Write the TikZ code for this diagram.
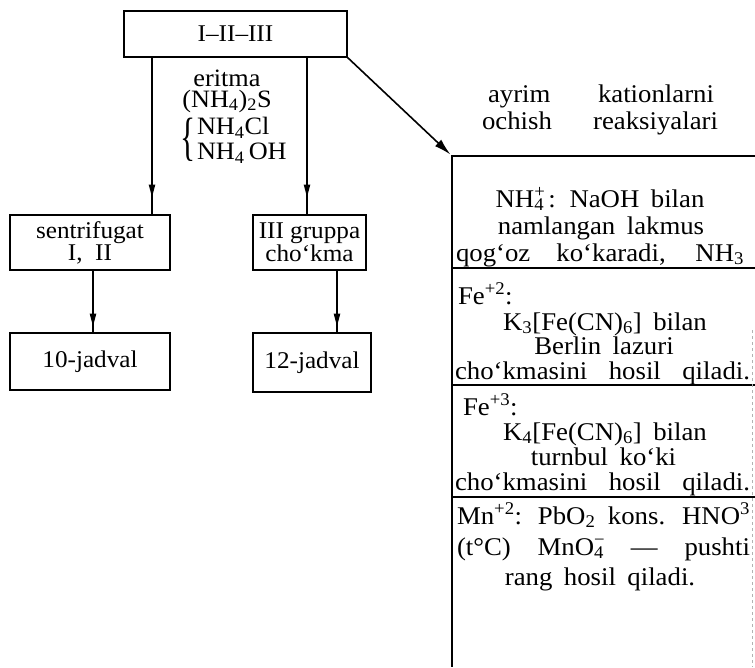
\documentclass[tikz,border=0pt]{standalone}
\usepackage{fontspec}
\usepackage{graphicx}
\setmainfont{Liberation Serif}[FakeStretch=1.05]
\usetikzlibrary{arrows.meta,decorations.markings}
\newcommand\chsub[1]{\textsubscript{#1}}
\newcommand\chsup[1]{\textsuperscript{#1}}
\newcommand\chboth[2]{\rlap{\textsuperscript{#2}}\textsubscript{#1}}
\newcommand\tsp{\spaceskip=0.45em plus 0.6em minus 0.15em\relax}
\newsavebox\jbox
\newcommand\jline[2]{\sbox\jbox{#2}\ifdim\wd\jbox>#1pt\resizebox{#1pt}{\height}{\usebox\jbox}\else\makebox[#1pt][s]{#2}\fi}
\begin{document}
\begin{tikzpicture}[x=1pt,y=-1pt,
  every node/.style={inner sep=0pt, outer sep=0pt, font=\fontsize{24}{20.5}\selectfont},
  boxnode/.style={draw, line width=1.3pt, align=center},
  lbl/.style={font=\fontsize{25}{22}\selectfont},
  tline/.style={anchor=base, font=\fontsize{25.5}{24}\selectfont},
  midarrow/.style={line width=2pt, postaction={decorate},
    decoration={markings, mark=at position #1 with {\arrow{Triangle[length=13pt,width=6pt]}}}},
  tab/.style={line width=1.4pt}]
\useasboundingbox (0,0) rectangle (755,667);

% boxes
\node[boxnode, minimum width=223pt, minimum height=46pt] (top) at (235.5,34) {I–II–III};
\node[boxnode, minimum width=160pt, minimum height=55pt] (sent) at (90,242.5) {sentrifugat\\I,\ \ II};
\node[boxnode, minimum width=113pt, minimum height=55pt] (gr3) at (309.5,242.5) {III gruppa\\cho‘kma};
\node[boxnode, minimum width=160pt, minimum height=57pt] (j10) at (90,361.5) {10-jadval};
\node[boxnode, minimum width=118pt, minimum height=59pt] (j12) at (312,362.5) {12-jadval};

% reagent label
\node[lbl] (er) at (227,78) {eritma};
\node[lbl] (ns) at (227,101) {(NH\chsub{4})\chsub{2}S};
\node[lbl] (br) at (188,140) {\scalebox{1.2}[2.1]{\{}};
\node[lbl, anchor=west] (nc) at (197,128) {NH\chsub{4}Cl};
\node[lbl, anchor=west] (no) at (197,153) {NH\chsub{4}\,OH};

% connectors
\coordinate (xl) at (152,0);
\coordinate (xr) at (307,0);
\coordinate (xll) at (93,0);
\coordinate (xrr) at (337,0);
\draw[midarrow=0.89] (top.south -| xl) -- (sent.north -| xl);
\draw[midarrow=0.89] (top.south -| xr) -- (gr3.north -| xr);
\draw[midarrow=0.9] (sent.south -| xll) -- (j10.north -| xll);
\draw[midarrow=0.9] (gr3.south -| xrr) -- (j12.north -| xrr);

% table
\coordinate (ttl) at (452,156);
\coordinate (ttr) at (755,156);
\coordinate (s1l) at (452,268);
\coordinate (s1r) at (755,268);
\coordinate (s2l) at (452,385);
\coordinate (s2r) at (755,385);
\coordinate (s3l) at (452,497);
\coordinate (s3r) at (755,497);
\coordinate (tbl) at (452,667);
\draw[line width=1.6pt, -{Latex[length=17pt,width=9pt]}, shorten >=2pt] (top.south east) -- (ttl);
\draw[tab] (ttr) -- (ttl) -- (tbl);
\draw[tab] (s1l) -- (s1r);
\draw[tab] (s2l) -- (s2r);
\draw[tab] (s3l) -- (s3r);
\draw[line width=0.4pt, gray!60, dashed] (752,330) -- (752,667);

% heading above table
\node[tline] (h1) at (601,102) {\tsp\jline{226}{ayrim kationlarni}};
\node[tline] (h2) at (600,129) {\tsp\jline{236}{ochish reaksiyalari}};

% cell 1
\node[tline] (a1) at (600,207) {\tsp NH\chboth{4}{+}\,: NaOH bilan};
\node[tline] (a2) at (601,234) {\tsp namlangan lakmus};
\node[tline] (a3) at (600,261) {\tsp\jline{288}{qog‘oz ko‘karadi, NH\chsub{3}}};

% cell 2
\node[tline, anchor=base west] (b0) at (458,304) {Fe\chsup{+2}:};
\node[tline] (b1) at (605,330) {\tsp K\chsub{3}[Fe(CN)\chsub{6}] bilan};
\node[tline] (b2) at (604,354) {\tsp Berlin lazuri};
\node[tline] (b3) at (602.5,379) {\tsp\jline{295}{cho‘kmasini hosil qiladi.}};

% cell 3
\node[tline, anchor=base west] (c0) at (463,415) {Fe\chsup{+3}:};
\node[tline] (c1) at (605,440) {\tsp K\chsub{4}[Fe(CN)\chsub{6}] bilan};
\node[tline] (c2) at (603.5,465) {\tsp turnbul ko‘ki};
\node[tline] (c3) at (602.5,490) {\tsp\jline{295}{cho‘kmasini hosil qiladi.}};

% cell 4
\node[tline] (d1) at (603.5,524) {\tsp\jline{293}{Mn\chsup{+2}: PbO\chsub{2} kons. HNO\chsup{3}}};
\node[tline] (d2) at (603.5,555) {\tsp\jline{293}{(t°C) MnO\chboth{4}{−} — pushti}};
\node[tline] (d3) at (600,585) {\tsp rang hosil qiladi.};
\end{tikzpicture}
\end{document}
